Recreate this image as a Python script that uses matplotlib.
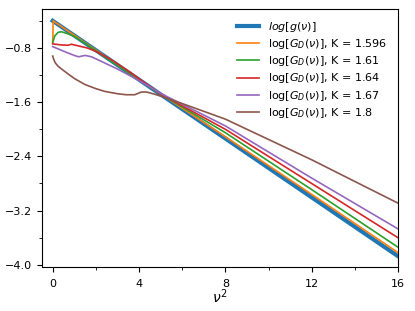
import numpy as np
import matplotlib
matplotlib.use('Agg')
import matplotlib.pyplot as plt
from matplotlib.ticker import MultipleLocator

# nu^2 nodes and log values
g_x = [0, 16]
g_y = [-0.399, -3.873]

k_labels = ['1.596', '1.61', '1.64', '1.67', '1.8']

x_1596 = [0, 0.02, 4, 8, 12, 16]
y_1596 = [-0.72, -0.40, -1.265, -2.11, -2.96, -3.82]

x_161 = [0, 0.1, 0.25, 0.4, 0.7, 1.0, 1.5, 2.5, 5, 8, 12, 16]
y_161 = [-0.72, -0.62, -0.57, -0.56, -0.59, -0.63, -0.73, -0.95, -1.48, -2.05, -2.89, -3.74]

x_164 = [0, 0.4, 0.7, 0.87, 1.0, 1.2, 1.6, 2.0, 2.7, 3.5, 5, 8, 12, 16]
y_164 = [-0.74, -0.755, -0.76, -0.745, -0.755, -0.77, -0.80, -0.85, -0.97, -1.14, -1.48, -2.00, -2.80, -3.60]

x_167 = [0, 0.3, 0.6, 1.0, 1.2, 1.5, 1.8, 2.4, 3.0, 4.0, 5.0, 8, 12, 16]
y_167 = [-0.78, -0.82, -0.86, -0.91, -0.93, -0.91, -0.93, -1.02, -1.11, -1.28, -1.47, -1.95, -2.72, -3.47]

x_18 = [0, 0.05, 0.12, 0.25, 0.45, 0.7, 1.0, 1.5, 2.0, 2.4, 3.0, 3.4, 3.8, 4.1, 4.35, 4.7, 5.2, 6, 8, 10, 12, 14, 16]
y_18 = [-0.92, -0.97, -1.02, -1.07, -1.12, -1.18, -1.25, -1.34, -1.40, -1.44, -1.475, -1.49, -1.49, -1.45, -1.45, -1.48, -1.53, -1.62, -1.85, -2.15, -2.45, -2.77, -3.09]

xs = [x_1596, x_161, x_164, x_167, x_18]
ys = [y_1596, y_161, y_164, y_167, y_18]

fig = plt.figure(figsize=(4.15, 3.11), dpi=100)
ax = fig.add_axes([0.101, 0.142, 0.858, 0.829])

ax.plot(g_x, g_y, lw=3, color='C0', label=r'$log[g(\nu)]$')
for i in range(len(k_labels)):
    ax.plot(xs[i], ys[i], lw=1.2, color='C' + str(i + 1),
            label=r'log[$G_D(\nu)$], K = ' + k_labels[i])

ax.set_xlim(-0.5, 16)
ax.set_ylim(-4.03, -0.225)
ax.xaxis.set_major_locator(MultipleLocator(4))
ax.xaxis.set_minor_locator(MultipleLocator(2))
ax.yaxis.set_major_locator(MultipleLocator(0.8))
ax.yaxis.set_minor_locator(MultipleLocator(0.4))
ax.set_yticks([-4.0, -3.2, -2.4, -1.6, -0.8])
ax.set_yticklabels(['−4.0', '−3.2', '−2.4', '−1.6', '−0.8'])
ax.tick_params(labelsize=8)
ax.tick_params(axis='x', pad=5)
ax.set_xlabel(r'$\nu^2$', fontsize=10, labelpad=-1)

ax.legend(loc='upper right', fontsize=8, frameon=False, labelspacing=0.28,
          borderaxespad=0.6)

fig.savefig('out.png', dpi=100)
